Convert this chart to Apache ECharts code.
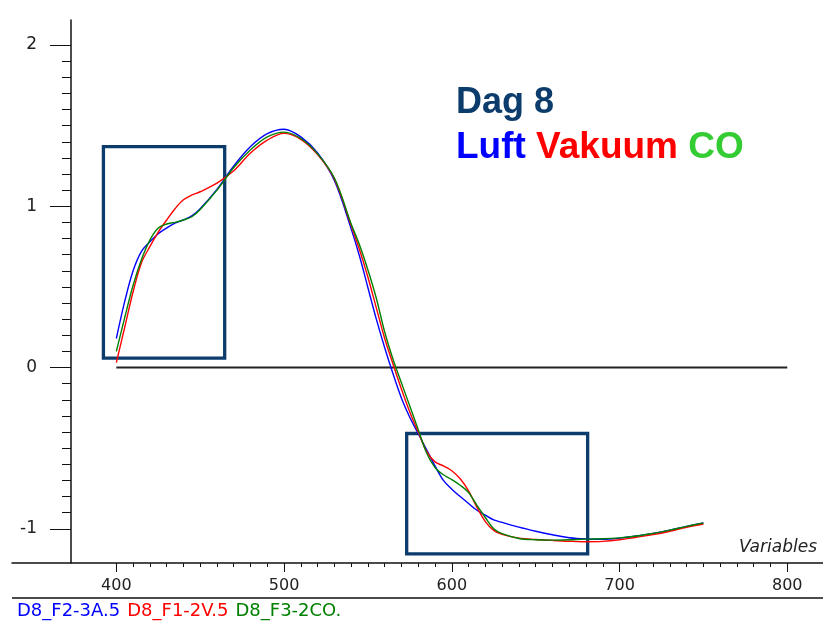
<!DOCTYPE html>
<html><head><meta charset="utf-8">
<script src="https://cdn.jsdelivr.net/npm/echarts@6/dist/echarts.min.js"></script>
<style>html,body{margin:0;padding:0;background:#fff}#c{width:823px;height:622px}</style>
</head><body><div id="c"></div>
<script>
// ---- data ----
const wavelengths = [400,405,410,415,420,425,430,435,440,445,450,460,470,480,490,500,510,520,530,540,545,550,555,560,565,570,575,580,585,590,595,600,605,610,615,620,625,630,640,650,660,670,680,690,700,710,720,730,740,750];
const luft = [0.18,0.41,0.60,0.72,0.78,0.83,0.865,0.895,0.915,0.94,0.985,
  1.105,1.25,1.37,1.45,1.478,1.43,1.33,1.16,0.86,
  0.69,0.495,0.30,0.123,-0.04,-0.19,-0.31,-0.41,-0.51,-0.61,-0.70,-0.755,-0.80,-0.843,-0.885,-0.915,-0.945,-0.96,
  -0.99,-1.015,-1.037,-1.055,-1.063,-1.065,-1.058,-1.045,-1.028,-1.008,-0.985,-0.963];
const vakuum = [0.03,0.25,0.47,0.65,0.75,0.84,0.915,0.985,1.04,1.07,1.09,
  1.143,1.22,1.33,1.41,1.452,1.415,1.32,1.17,0.88,
  0.73,0.56,0.37,0.18,0.02,-0.134,-0.277,-0.40,-0.52,-0.585,-0.61,-0.64,-0.69,-0.765,-0.867,-0.955,-1.01,-1.035,
  -1.058,-1.066,-1.072,-1.077,-1.08,-1.078,-1.068,-1.052,-1.036,-1.015,-0.99,-0.97];
const co = [0.10,0.31,0.51,0.67,0.79,0.865,0.89,0.90,0.915,0.935,0.98,
  1.10,1.24,1.35,1.43,1.46,1.42,1.325,1.175,0.89,
  0.76,0.605,0.43,0.22,0.05,-0.096,-0.24,-0.385,-0.53,-0.62,-0.665,-0.695,-0.73,-0.775,-0.855,-0.93,-1.0,-1.03,
  -1.06,-1.068,-1.07,-1.068,-1.064,-1.062,-1.056,-1.045,-1.028,-1.008,-0.985,-0.963];
const seriesNames = ['D8_F2-3A.5','D8_F1-2V.5','D8_F3-2CO.'];
const zeroLineX = [400, 800];
const zeroLineY = [0, 0];
const boxXStart = [392.3, 573.1];
const boxXEnd = [464.6, 681.0];
const boxYTop = [1.37, -0.409];
const boxYBottom = [0.058, -1.155];
const xMajorTicks = [400, 500, 600, 700, 800];
const yMajorTicks = [-1, 0, 1, 2];
const xMinorTicks = [];
for (let v = 410; v < 800; v += 10) if (v % 100 !== 0) xMinorTicks.push(v);
const yMinorTicks = [];
for (let i = -9; i < 20; i++) if (i % 10 !== 0) yMinorTicks.push(Math.round(i) / 10);

// ---- chart ----
const X_MIN = 337.8, X_MAX = 821.3, Y_MIN = -1.212, Y_MAX = 2.155;
const FONT = 'DejaVu Sans';
const toPairs = (xs, ys) => xs.map((x, i) => [x, ys[i]]);
const chart = echarts.init(document.getElementById('c'), null, {renderer: 'canvas'});
const lineColors = ['#0000ff', '#ff0000', '#008000'];
const curves = [luft, vakuum, co];

chart.setOption({
  animation: false,
  backgroundColor: '#ffffff',
  grid: {left: 12, right: 0, top: 20, bottom: 59, containLabel: false},
  xAxis: [{
    type: 'value', min: X_MIN, max: X_MAX, position: 'bottom',
    axisLine: {show: true, onZero: false, lineStyle: {color: '#111', width: 1.5}},
    axisTick: {show: true, length: 9, customValues: xMajorTicks, lineStyle: {color: '#111', width: 1}},
    axisLabel: {show: true, customValues: xMajorTicks, margin: 15, color: '#222', fontFamily: FONT, fontSize: 16},
    splitLine: {show: false},
    name: 'Variables', nameLocation: 'end', nameGap: -6,
    nameTextStyle: {align: 'right', verticalAlign: 'bottom', padding: [0, 0, 7, 0], fontStyle: 'italic', fontFamily: FONT, fontSize: 17, color: '#222'}
  }, {
    type: 'value', min: X_MIN, max: X_MAX, position: 'bottom',
    axisLine: {show: false, onZero: false},
    axisTick: {show: true, length: 4, customValues: xMinorTicks, lineStyle: {color: '#111', width: 1}},
    axisLabel: {show: false}, splitLine: {show: false}
  }],
  yAxis: [{
    type: 'value', min: Y_MIN, max: Y_MAX, position: 'left', offset: -59,
    axisLine: {show: true, onZero: false, lineStyle: {color: '#111', width: 1.5}},
    axisTick: {show: true, length: 21, customValues: yMajorTicks, lineStyle: {color: '#111', width: 1}},
    axisLabel: {show: true, customValues: yMajorTicks, margin: 34, color: '#222', fontFamily: FONT, fontSize: 17},
    splitLine: {show: false}
  }, {
    type: 'value', min: Y_MIN, max: Y_MAX, position: 'left', offset: -59,
    axisLine: {show: false, onZero: false},
    axisTick: {show: true, length: 9, customValues: yMinorTicks, lineStyle: {color: '#111', width: 1}},
    axisLabel: {show: false}, splitLine: {show: false}
  }],
  legend: {
    left: 12, top: 602, padding: 0, icon: 'none', itemWidth: 0, itemHeight: 17, itemGap: 2,
    selectedMode: false,
    textStyle: {fontFamily: FONT, fontSize: 18},
    data: seriesNames.map((n, i) => ({name: n, textStyle: {color: lineColors[i]}}))
  },
  graphic: [
    {type: 'line', shape: {x1: 12, y1: 598, x2: 823, y2: 598}, style: {stroke: '#111', lineWidth: 1.5}},
    {type: 'text', x: 456, y: 103.5, style: {text: 'Dag 8', fontSize: 36, fontWeight: 'bold', fontFamily: 'Liberation Sans', fill: '#0c3c6c', verticalAlign: 'middle', align: 'left'}},
    {type: 'text', x: 456, y: 148, style: {
      text: '{b|Luft} {r|Vakuum} {g|CO}', fontSize: 37, fontWeight: 'bold', fontFamily: 'Liberation Sans', fill: '#000', verticalAlign: 'middle', align: 'left',
      rich: {
        b: {fill: '#0000ff', fontSize: 37, fontWeight: 'bold', fontFamily: 'Liberation Sans'},
        r: {fill: '#ff0000', fontSize: 37, fontWeight: 'bold', fontFamily: 'Liberation Sans'},
        g: {fill: '#33cc33', fontSize: 37, fontWeight: 'bold', fontFamily: 'Liberation Sans'}
      }}}
  ],
  series: [{
    name: 'zero', type: 'line', z: 1, silent: true,
    data: toPairs(zeroLineX, zeroLineY), symbol: 'none',
    lineStyle: {color: '#222', width: 2},
    markArea: {
      silent: true,
      itemStyle: {color: 'rgba(0,0,0,0)', borderColor: '#0c3c6c', borderWidth: 3.3},
      data: boxXStart.map((x, i) => [{xAxis: x, yAxis: boxYTop[i]}, {xAxis: boxXEnd[i], yAxis: boxYBottom[i]}])
    }
  }].concat(curves.map((ys, i) => ({
    name: seriesNames[i], type: 'line', z: 3 + i, symbol: 'none', smooth: 0.35,
    data: toPairs(wavelengths, ys),
    lineStyle: {color: lineColors[i], width: 1.4},
    itemStyle: {color: lineColors[i]}
  })))
});
</script></body></html>
